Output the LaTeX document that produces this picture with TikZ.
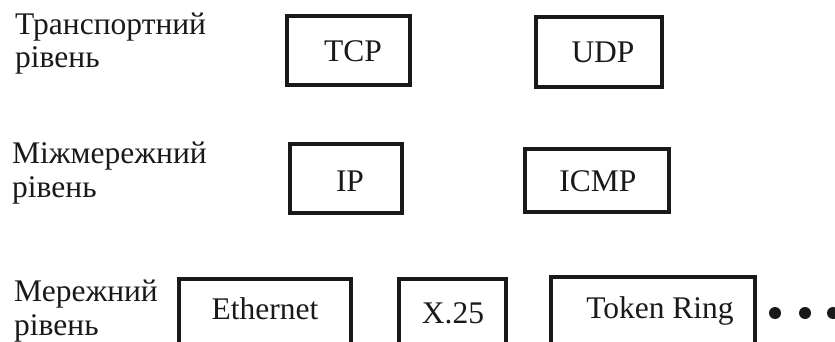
\documentclass[tikz,border=0pt]{standalone}
\usepackage{fontspec}
\setmainfont{Liberation Serif}
\begin{document}
\begin{tikzpicture}[x=1pt,y=-1pt,
  box/.style={draw=black!90, line width=3.6pt, rectangle, inner sep=0pt},
  boxtext/.style={font=\fontsize{31.5}{31.5}\selectfont, inner sep=0pt, text=black!90},
  layer/.style={font=\fontsize{31.5}{31.5}\selectfont, inner sep=0pt, anchor=base west, text=black!90},
  dot/.style={circle, fill=black!90, inner sep=0pt, minimum size=12pt}]
  \useasboundingbox (0,0) rectangle (835,342);
  \clip (0,0) rectangle (835,342);

  % layer names
  \node[layer] (t1) at (15,35) {Транспортний};
  \node[layer] (t2) at (15,68) {рівень};
  \node[layer] (i1) at (12,163) {Міжмережний};
  \node[layer] (i2) at (12,197) {рівень};
  \node[layer] (n1) at (14,301) {Мережний};
  \node[layer] (n2) at (14,335) {рівень};

  % transport layer protocols
  \node[box, minimum width=123.4pt, minimum height=69.4pt] (tcp) at (348.5,50.5) {};
  \node[box, minimum width=126.4pt, minimum height=70.4pt] (udp) at (599,52) {};
  \node[boxtext, anchor=base] (tcpl) at (353,62) {TCP};
  \node[boxtext, anchor=base] (udpl) at (603,63) {UDP};

  % internet layer protocols
  \node[box, minimum width=112.4pt, minimum height=69.4pt] (ip) at (346,178.5) {};
  \node[box, minimum width=144.4pt, minimum height=63.4pt] (icmp) at (597,180.5) {};
  \node[boxtext, anchor=base] (ipl) at (350,191) {IP};
  \node[boxtext, anchor=base] (icmpl) at (598,191) {ICMP};

  % network layer: boxes run past the lower edge
  \node[box, minimum width=172.4pt, minimum height=140pt] (eth) at (265,348.8) {};
  \node[box, minimum width=107.4pt, minimum height=140pt] (x25) at (452.5,348.8) {};
  \node[box, minimum width=204.4pt, minimum height=140pt] (tr) at (653,346.8) {};
  \node[boxtext, anchor=base] (ethl) at (265,319) {Ethernet};
  \node[boxtext, anchor=base] (x25l) at (453,323) {X.25};
  \node[boxtext, anchor=base] (trl) at (660,318) {Token Ring};

  % ellipsis after the last box
  \node[dot] (d1) at (775,313) {};
  \node[dot] (d2) at (805,313) {};
  \node[dot] (d3) at (833,313) {};
\end{tikzpicture}
\end{document}
